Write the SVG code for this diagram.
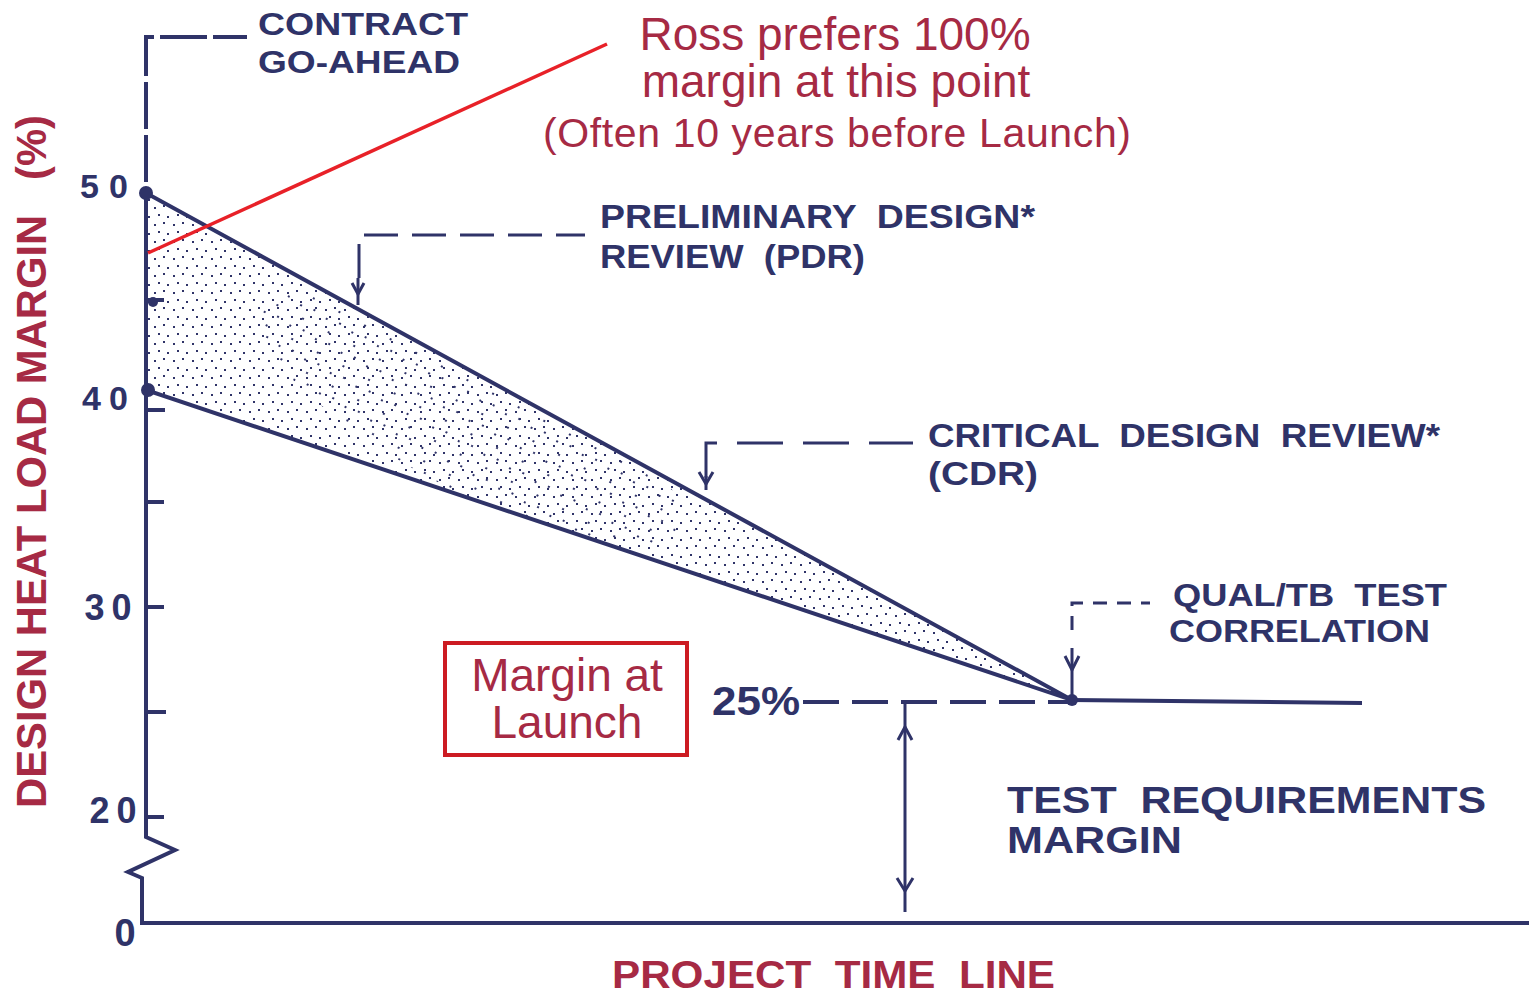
<svg xmlns="http://www.w3.org/2000/svg" width="1529" height="995" viewBox="0 0 1529 995">
<defs>
<style>
.nv{fill:#2f3368;font-family:"Liberation Sans",Arial,sans-serif;font-weight:bold;}
.ln{fill:none;stroke:#2f3368;stroke-width:4;stroke-linecap:square;}
.thin{fill:none;stroke:#2f3368;stroke-width:3;}
.rd{fill:#a62a44;font-family:"Liberation Sans",Arial,sans-serif;}
.rdb{fill:#a62a44;font-family:"Liberation Sans",Arial,sans-serif;font-weight:bold;}
</style>
<pattern id="dotsA" patternUnits="userSpaceOnUse" width="19" height="17">
<rect x="2" y="3" width="2" height="2" fill="#2f3368"/>
<rect x="11" y="1" width="2" height="2" fill="#2f3368"/>
<rect x="6" y="10" width="2" height="2" fill="#2f3368"/>
<rect x="15" y="12" width="2" height="2" fill="#2f3368"/>
</pattern>
<pattern id="dotsB" patternUnits="userSpaceOnUse" width="29" height="23">
<rect x="5" y="6" width="2" height="2" fill="#2f3368"/>
<rect x="19" y="4" width="2" height="2" fill="#2f3368"/>
<rect x="13" y="17" width="2" height="2" fill="#2f3368"/>
</pattern>
<clipPath id="band"><polygon points="148,196 1072,700 148,390"/></clipPath>
</defs>

<g id="margin-band">
<polygon points="148,196 1072,700 148,390" fill="url(#dotsA)"/>
<g clip-path="url(#band)"><ellipse cx="470" cy="420" rx="240" ry="70" fill="url(#dotsB)" transform="rotate(28 470 420)"/></g>
<line x1="146" y1="193" x2="1072" y2="700" class="ln" stroke-width="5"/>
<line x1="146" y1="390" x2="1072" y2="700" class="ln" stroke-width="4"/>
<line x1="1072" y1="700" x2="1360" y2="703" class="ln" stroke-width="5"/>
<circle cx="146" cy="193" r="7" fill="#2f3368"/>
<circle cx="148" cy="390" r="7" fill="#2f3368"/>
<circle cx="153" cy="302" r="5" fill="#2f3368"/>
<circle cx="1072" cy="700" r="6" fill="#2f3368"/>
</g>

<g id="axes">
<path d="M146,190 V837 L175,850 L128,872 L142,878 V923 H1529" class="ln" stroke-linecap="butt" stroke-linejoin="miter"/>
<path d="M146,180 V37 H245" class="ln" stroke-linecap="butt" stroke-dasharray="43 10"/>
<g class="ln" stroke-width="3" stroke-linecap="butt">
<line x1="146" y1="300" x2="162" y2="300"/>
<line x1="146" y1="410" x2="163" y2="410"/>
<line x1="146" y1="502" x2="162" y2="502"/>
<line x1="146" y1="607" x2="162" y2="607"/>
<line x1="146" y1="712" x2="164" y2="712"/>
<line x1="146" y1="817" x2="162" y2="817"/>
</g>
<text class="nv" x="104" y="198" font-size="34" text-anchor="middle" textLength="48">50</text>
<text class="nv" x="105" y="410" font-size="34" text-anchor="middle" textLength="46">40</text>
<text class="nv" x="108" y="620" font-size="36" text-anchor="middle" textLength="47">30</text>
<text class="nv" x="113" y="823" font-size="36" text-anchor="middle" textLength="47">20</text>
<text class="nv" x="125" y="946" font-size="38" text-anchor="middle">0</text>
</g>

<g id="contract-go-ahead">
<text class="nv" x="258" y="35" font-size="32" textLength="210" lengthAdjust="spacingAndGlyphs">CONTRACT</text>
<text class="nv" x="258" y="73" font-size="32" textLength="202" lengthAdjust="spacingAndGlyphs">GO-AHEAD</text>
</g>

<g id="pdr">
<text class="nv" x="600" y="228" font-size="33" xml:space="preserve" textLength="435" lengthAdjust="spacingAndGlyphs">PRELIMINARY  DESIGN*</text>
<text class="nv" x="600" y="268" font-size="33" xml:space="preserve" textLength="265" lengthAdjust="spacingAndGlyphs">REVIEW  (PDR)</text>
</g>

<g id="cdr">
<text class="nv" x="928" y="447" font-size="33" xml:space="preserve" textLength="512" lengthAdjust="spacingAndGlyphs">CRITICAL  DESIGN  REVIEW*</text>
<text class="nv" x="928" y="485" font-size="33" textLength="110" lengthAdjust="spacingAndGlyphs">(CDR)</text>
</g>

<g id="qual-tb">
<text class="nv" x="1173" y="606" font-size="32" xml:space="preserve" textLength="274" lengthAdjust="spacingAndGlyphs">QUAL/TB  TEST</text>
<text class="nv" x="1169" y="642" font-size="32" textLength="261" lengthAdjust="spacingAndGlyphs">CORRELATION</text>
</g>

<g id="test-requirements">
<text class="nv" x="1007" y="813" font-size="37" xml:space="preserve" textLength="479" lengthAdjust="spacingAndGlyphs">TEST  REQUIREMENTS</text>
<text class="nv" x="1007" y="853" font-size="37" textLength="175" lengthAdjust="spacingAndGlyphs">MARGIN</text>
</g>

<g id="launch-25">
<text class="nv" x="712" y="715" font-size="40" textLength="88" lengthAdjust="spacingAndGlyphs">25%</text>
</g>

<g id="connectors">
<path d="M359,278 V235 H585" class="thin" stroke-dasharray="34 14"/>
<line x1="358" y1="278" x2="358" y2="305" class="thin"/>
<path d="M352,283 L358,294 L364,283" class="thin"/>
<path d="M706,478 V443 H913" class="thin" stroke-dasharray="46 20"/>
<line x1="706" y1="476" x2="706" y2="490" class="thin"/>
<path d="M699,472 L706,484 L713,472" class="thin"/>
<path d="M1072,630 V603 H1150" class="thin" stroke-dasharray="14 10"/>
<line x1="1072" y1="648" x2="1072" y2="698" class="thin"/>
<path d="M1065,656 L1072,670 L1079,656" class="thin"/>
<path d="M805,702 H1068" class="ln" stroke-width="4" stroke-linecap="butt" stroke-dasharray="32 17"/>
<line x1="905" y1="703" x2="905" y2="912" class="thin"/>
<path d="M898,740 L905,727 L912,740" class="thin"/>
<path d="M897,878 L905,891 L913,878" class="thin"/>
<line x1="148" y1="253" x2="607" y2="44" stroke="#e82128" stroke-width="3.5"/>
</g>

<g id="ross-note">
<text class="rd" x="835" y="50" font-size="46" text-anchor="middle">Ross prefers 100%</text>
<text class="rd" x="836" y="97" font-size="46" text-anchor="middle">margin at this point</text>
<text class="rd" x="837" y="147" font-size="41" text-anchor="middle" textLength="588">(Often 10 years before Launch)</text>
</g>

<g id="margin-at-launch">
<rect x="445" y="643" width="242" height="112" fill="#ffffff" stroke="#cc1b22" stroke-width="4"/>
<text class="rd" x="567" y="691" font-size="46" text-anchor="middle">Margin at</text>
<text class="rd" x="567" y="738" font-size="46" text-anchor="middle">Launch</text>
</g>

<g id="axis-titles">
<text class="rdb" x="0" y="0" font-size="42" xml:space="preserve" textLength="693" lengthAdjust="spacingAndGlyphs" transform="translate(46,808) rotate(-90)">DESIGN HEAT LOAD MARGIN   (%)</text>
<text class="rdb" x="612" y="988" font-size="38" xml:space="preserve" textLength="443" lengthAdjust="spacingAndGlyphs">PROJECT  TIME  LINE</text>
</g>
</svg>
